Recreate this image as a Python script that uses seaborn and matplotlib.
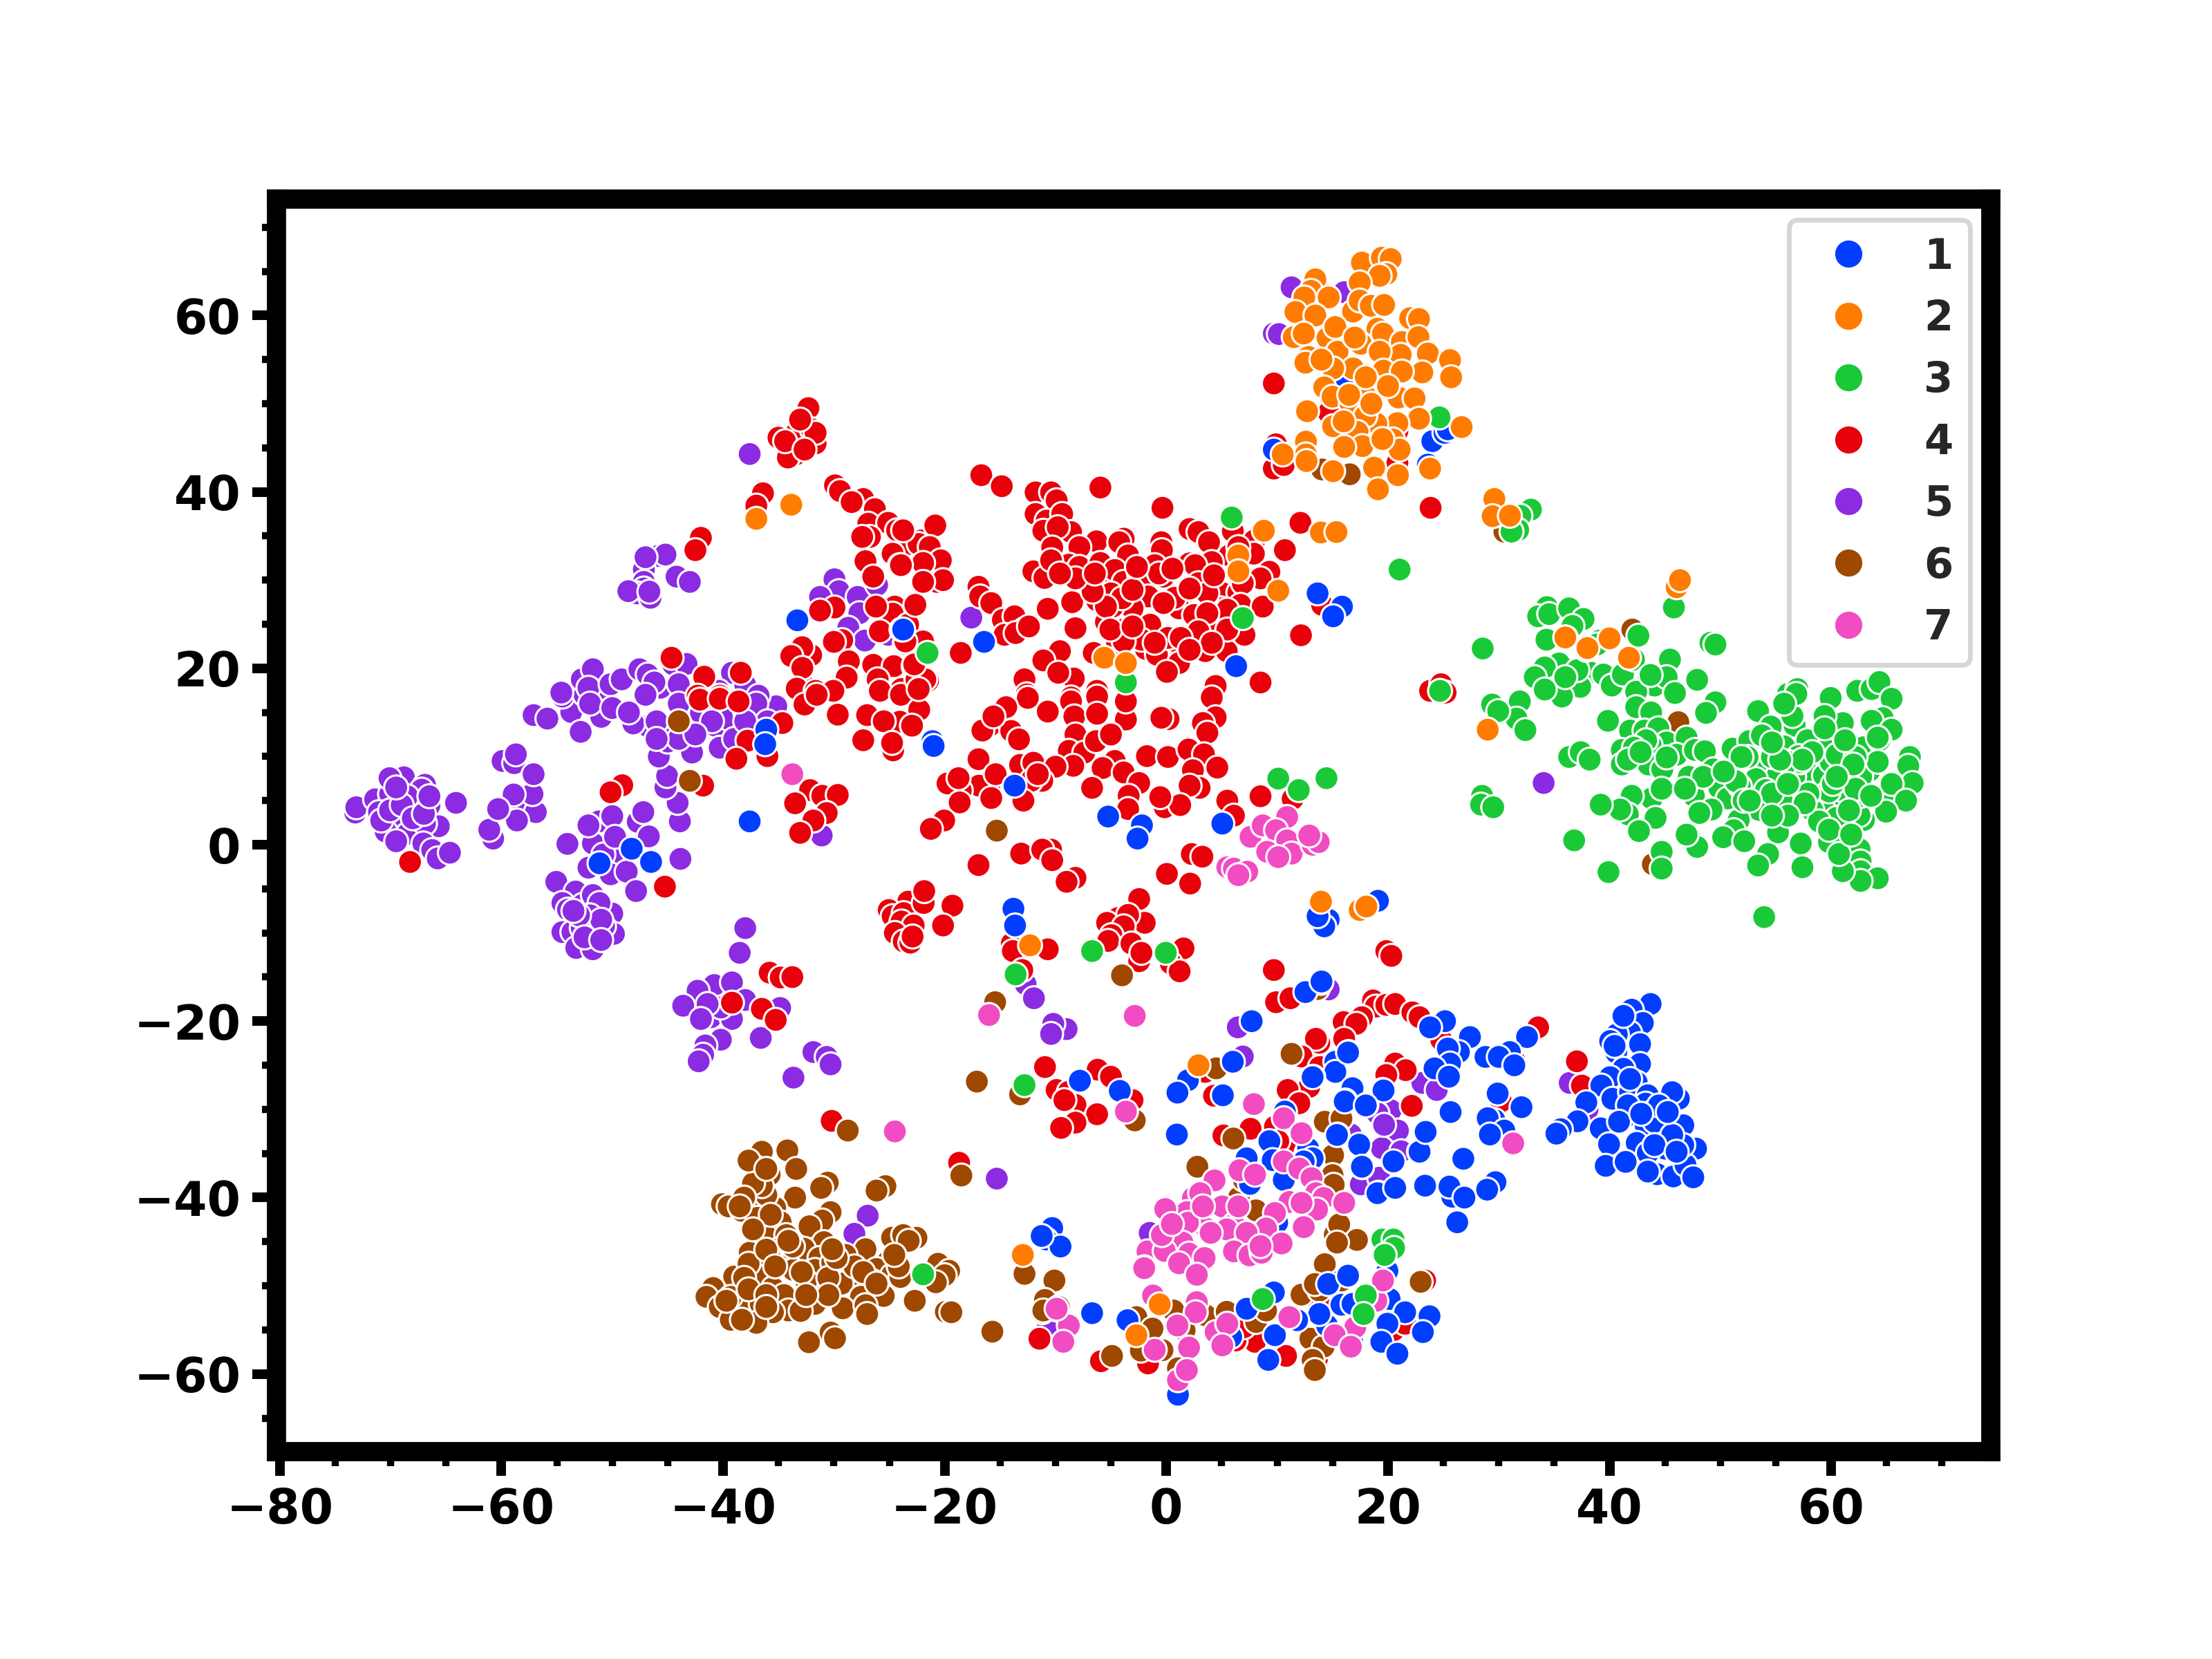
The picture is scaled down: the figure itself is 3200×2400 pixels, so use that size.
import matplotlib
matplotlib.use('Agg')
import matplotlib.pyplot as plt
from matplotlib.ticker import AutoMinorLocator
import pandas as pd
import seaborn as sns

# t-SNE points, one list per class
class_1 = [(15.95,53),(9.7,44.8),(24,45.75),(25.1,46.7),(25.4,47.1),(23.6,43.1),(-33.3,25.45),(-23.9,24.4),(-36.1,13.05),(-36.2,11.4),(-37.6,2.65),
(-48.25,-.45),(-46.5,-1.95),(-51.15,-2.1),(-21.1,11.75),(-21,11.2),(-16.45,23),(-23.75,24.4),(6.3,20.25),(13.65,28.5),(15.85,27),(15.05,25.9),
(-13.7,6.7),(-5.25,3.2),(-2.2,2.2),(-2.6,.7),(5.05,2.4),(-13.8,-7.25),(-13.65,-9.15),(19.1,-6.35),(14.65,-8.5),(14.25,-9.25),(13.65,-8.1),(13.95,-15.65),
(12.55,-16.7),(7.7,-20),(-7.8,-26.75),(-4.2,-27.9),(6,-24.6),(1.95,-26.7),(1,-28.1),(5.1,-28.4),(.95,-32.85),(25.15,-20),(23.8,-20.7),(27.4,-21.8),
(32.55,-21.8),(31,-23.5),(28.8,-24.05),(30,-24.05),(31.4,-25),(26.4,-23.5),(25.4,-23.1),(25.6,-24.8),(24.2,-25.35),(25.5,-26.3),(15.25,-24.6),(16.45,-23.5),
(15.25,-25.75),(13.25,-26.3),(16.8,-27.6),(19.5,-27.8),(18.05,-29.5),(16.15,-29),(25.7,-30.25),(29.9,-28.2),(32.05,-29.75),(29.6,-31.2),(29,-31),(30.5,-32.4),
(29.2,-32.85),(23.5,-32.7),(22.8,-34.8),(17.4,-34),(15.45,-32.85),(20.5,-35.95),(17.65,-36.55),(26.8,-35.6),(23.4,-38.7),(25.8,-39.9),(29.7,-38.25),(28.85,-39.25),
(35.55,-32.3),(37.05,-31.3),(19.15,-39.45),(20.7,-38.9),(7.3,-35.5),(7.6,-38.45),(10.7,-38.1),(12.65,-34.95),(9.7,-35.9),(10.7,-30.25),(9.3,-33.6),
(43.7,-18.05),(42,-18.7),(43,-20.2),(41.85,-21.3),(40.65,-21.5),(40.05,-22.25),(42.75,-22.6),(40.6,-23.55),(42.75,-24.85),(41.25,-25.4),(40.05,-26.35),(39.25,-27.3),
(42.45,-26.95),(40.25,-28.8),(41.85,-28.05),(43.45,-28.4),(43.25,-29.35),(46.25,-28.8),(45.65,-28.05),(37.9,-29.2),(37.1,-31.35),(35.6,-32.25),(35.2,-32.75),(39.2,-32.15),
(41.75,-30.65),(43.85,-30.3),(43.25,-31.8),(45,-31.6),(46.65,-31.8),(39.95,-33.95),(42.45,-33.8),(45,-34.45),(47,-34.6),(47.8,-34.45),(43.45,-34.95),(39.65,-36.4),
(41.45,-35.95),(44.3,-37.35),(43.45,-37.05),(45.75,-37.6),(46.85,-36.3),(47.55,-37.7),(45.2,-33.3),(46.65,-34.05),(-10.3,-43.45),(-10.85,-44.75),(-9.55,-45.55),(-11.25,-44.35),
(-6.7,-53.1),(-3.5,-53.9),(1.05,-62.35),(9.7,-50.75),(7.25,-52.6),(9.8,-55.6),(9.2,-58.4),(14.5,-54.5),(15.8,-52.15),(14.6,-49.8),(16.4,-48.85),(16.8,-52.05),
(13.8,-53.2),(11.8,-53.9),(16.75,-56.25),(19.95,-48.3),(20.15,-51.5),(21.55,-53),(23.75,-53.45),(23.15,-55.25),(19.95,-54.3),(19.4,-56.35),(20.85,-57.7),(5.85,-55.8),
(3.35,-41.2),(10,-42.85),(7.25,-35.55),(9.6,-35.75),(7.55,-38.45),(10.6,-38),(12.8,-34.45),(13.2,-35.55),(12.4,-35.9),(15.4,-32.9),(17.65,-36.5),(20.5,-35.9),
(22.85,-34.8),(23.4,-32.55),(25.65,-30.3),(19.05,-39.5),(20.65,-38.9),(23.35,-38.65),(25.55,-38.75),(26.9,-40),(28.95,-39.1),(26.25,-42.8),(14,-15.5),(16.4,-23.55),(13.2,-26.35),
(19.6,-27.85),(16.1,-29.1),(18,-29.55),(44.05,-31.4),(41.65,-29.55),(44.45,-29.55),(45.65,-32.9),(44.05,-34.05),(46.05,-34.8),(40.85,-31.4),(42.85,-30.5),(45.25,-30.3),(40.45,-22.8),(41.25,-19.4),(41.85,-26.55)]

class_2 = [(18.75,65.8),(17.65,66),(19.45,66.55),(20.25,66.4),(19.85,64.7),(19.25,64.5),(17.45,63.75),(13.45,64.1),(13.05,62.8),(12.45,62.05),(14.65,62.05),(11.65,60.4),
(13.45,60),(16.85,60.45),(17.45,61.7),(18.45,61.1),(19.65,61.2),(22,59.7),(22.8,59.6),(11.5,57.55),(12.4,57.95),(14.55,57.45),(15.25,58.7),(19.05,58.5),(19.55,57.95),
(17.55,56.8),(21.25,57),(22.75,57.55),(23.6,55.7),(21.15,55.55),(19.25,55.9),(15.45,55.9),(12.85,55.3),(12.55,54.65),(25.6,54.95),(25.7,53),(23.1,53.55),(19.6,53.75),
(16.85,54),(15.05,54),(21.25,53.65),(19.4,51.75),(17.85,51.1),(14.25,51.85),(15,50.8),(20.95,50.7),(22.4,50.6),(16.65,49.9),(12.7,49.15),(22.8,48.3),(20.85,47.8),
(18.95,47.75),(17.95,48.6),(26.65,47.35),(15.05,47.45),(17.25,46.8),(20.45,45.95),(17.7,45.2),(16.05,45.1),(21.05,44.8),(12.6,45.7),(12.6,44.25),(12.65,43.5),(10.5,44.25),
(15.05,42.35),(18.75,42.75),(20.9,41.9),(23.8,42.65),(19.1,40.3),(29.6,39.2),(29.45,37.25),(31,37.3),(8.8,35.6),(13.95,35.4),(15.35,35.45),(6.5,32.8),(6.5,31),(10.1,28.8),
(-5.6,21.2),(-3.65,20.6),(36.05,23.5),(37.9,22.1),(46.05,29.2),(46.35,30),(36,23.5),(38,22.3),(40,23.4),(41.75,21.2),(29,13.05),(-33.85,38.55),(-37,36.95),(-12.3,-11.4),
(13.95,-6.45),(17.45,-7.4),(18.05,-7),(2.9,-25),(-.6,-52.1),(-2.7,-55.6),(-12.95,-46.5),(16.5,51),(18.5,50),(18,53),(17,57.5),(14,55),(20,52),(16,48),(19.5,46)]

class_3 = [(24.65,48.45),(21.05,31.2),(32.9,38),(31.95,37.3),(31.75,35.7),(31.15,35.5),(28.55,22.25),(34.35,26.95),(33.55,25.9),(34.55,26.15),(36.35,26.8),(37.65,25.6),
(36.65,24.8),(34.3,23.25),(39.1,23.15),(38.85,22.7),(35.45,20.55),(34.15,20.1),(33.25,19),(38.2,19.55),(37.35,17.9),(34.9,17.6),(35.7,16.8),(39.45,19.3),(40.2,18.05),
(41.2,19.3),(42.2,21),(42.6,23.7),(43.5,19),(44.05,18.05),(45.45,21),(45.15,19),(45.9,17.2),(47.9,18.7),(49.1,22.9),(49.55,22.7),(45.8,26.9),(49.55,16.15),(48.7,14.95),
(42.4,17.35),(42.4,15.6),(43.75,15),(39.85,14.05),(41.85,12.95),(43.15,12.95),(44.4,13.2),(45.15,11.6),(46.95,12.15),(46.05,10.2),(42.05,10.4),(41.1,10.75),(42.95,11.3),
(43.7,11.3),(41.1,9.1),(43.5,9.1),(44.75,8.55),(47.7,10.75),(48.6,10.6),(51.1,10.9),(52.6,11.75),(53.4,15.15),(54.55,13.4),(56.7,13.5),(56.1,17.1),(56.95,17.65),(56.5,16.4),
(59.95,16.65),(61.05,13.8),(59.4,14.6),(59.05,12.65),(62.35,17.45),(63.65,17.65),(64.35,18.45),(65.45,16.55),(64.65,14.35),(63.65,14.05),(65.45,13.05),(62.9,11.05),(64.35,11.85),
(57.85,11.85),(55.75,11.15),(59.55,10.75),(57.05,10.05),(53.55,9.1),(55.2,8),(53.75,12.4),(67.1,9.95),(66.95,8.95),(67.35,7),(64.9,5.65),(65.45,6.9),(66.75,5),(64.95,3.75),
(63.45,8.4),(61.25,8),(57.95,8.3),(59.35,7.85),(56.65,7.7),(53.2,7.45),(54.1,6.2),(49.9,6.45),(49.35,8.55),(47.15,7.7),(47.6,5.55),(50.65,5.25),(56.65,5.55),(55.55,5),
(61.15,5.4),(59.25,4.15),(58.3,3.9),(53.5,3.95),(49.2,4),(48.1,3.6),(51.65,2.8),(60.5,3.05),(62.95,2.8),(62.55,3.35),(58.9,2.65),(51.2,1.65),(50.25,.85),(52.15,.4),(55.2,1.4),
(57.25,.15),(60.6,.75),(59.8,.3),(62.55,-.5),(62.65,-1.9),(62.65,-3),(64.2,-3.8),(62.65,-4.1),(61.05,-3),(60.7,-1.05),(57.4,-2.55),(54.3,-1.05),(53.4,-2.35),(47.4,.5),(47.9,-.25),
(46.95,1.15),(43.8,5.25),(42,5.55),(44.7,6.35),(41.65,3.45),(44.15,3.05),(42.65,1.55),(40.95,4),(39.2,4.55),(36.8,.5),(44.7,-.8),(44.7,-2.7),(39.9,-3.1),(53.95,-8.2),(36.35,9.95),
(37.4,10.5),(38.2,9.65),(28.5,5.55),(28.4,4.55),(29.5,4.25),(29.4,15.9),(31.9,16.25),(31.6,14.3),(32.4,13),(29.95,15.15),(57.2,9.35),(59.95,9.4),(61.25,6.05),(62.7,5.55),
(59.8,6.05),(56.1,9.4),(54.65,9.95),(51.75,6.65),(52.45,9.95),(62.7,7.7),(64.2,9.4),(57.95,5.8),(58.3,10.5),(60.5,10.2),(62.2,9.95),(5.9,37.1),(-3.65,18.4),(-21.55,21.75),
(6.9,25.7),(24.7,17.45),(10.1,7.5),(11.95,6.2),(14.45,7.55),(-6.7,-12.05),(-.05,-12.25),(-13.6,-14.7),(-12.8,-27.25),(19.5,-44.75),(20.5,-44.75),(20.55,-45.7),(19.7,-46.5),
(8.7,-51.5),(18,-51.1),(17.8,-53.2),(-21.95,-48.7),(51.4,7.2),(52.1,5),(54.65,5.8),(56.1,6.9),(57.6,4.7),(60.15,6.9),(62.2,6.35),(63.6,5.55),(62,9.1),(60.5,7.7),(56.1,3.3),(54.65,3.3),(52.65,5),(48.45,7.7),
(45.15,9.9),(43.3,11.85),(57.4,9.65),(55.4,9.65),(61.6,3.9),(59.8,1.7),(61.8,1.15),(64.2,12.15),(56.5,14.6),(54.65,11.6),(59.4,13.2),(61.25,11.85),(51.9,9.95),(50.3,8.3),(46.8,6.35),(56.85,17.1),(55.75,16),
(42.2,11),(41.65,9.65),(42.8,10.5),(43.7,19.25),(37.1,19.8),(36,19),(34.15,17.6)]

class_4 = [(-32.3,49.5),(-33.45,46.6),(-31.65,45.5),(-33.45,44.25),(-34.15,43.9),(-35,46.15),(-32,47.1),(-31.65,46.7),(-34.4,45.75),(-32.65,44.8),(-33.05,48.2),(-36.4,39.85),
(-37,38.45),(-42,34.8),(-42.5,33.4),(-29.9,40.75),(-29.45,40.1),(-27.35,39.2),(-28.4,38.85),(-26.3,38.05),(-26.9,36.4),(-25.1,36.5),(-20.9,36.2),(-24.3,35.65),(-26.75,34.9),
(-27.45,34.9),(-22.1,34.5),(-21.3,33.75),(-23.2,34.1),(-27.15,32.15),(-24.7,33),(-24.05,31.7),(-21.9,32.05),(-26.45,30.4),(-22,29.8),(-20.7,29.8),(-22.7,27.2),(-24.5,27),(-24.7,26.2),
(-26.2,27),(-29.95,26.9),(-31.25,26.55),(-23.3,24.95),(-25.85,24.2),(-29.25,23.2),(-30,23),(-21.8,23),(-23.6,22.8),(-33.3,21.5),(-32.65,21.6),(-32.05,21.5),(-32.85,22.4),(-33.85,21.4),
(-32.85,20.05),(-28.65,20.8),(-26.45,20.4),(-24.6,20.25),(-22.8,20.25),(-28.85,18.95),(-26.05,18.75),(-22.6,18.75),(-22.3,17.65),(-23.9,17.65),(-21.5,18.6),(-33.35,17.7),(-31.65,17.45),
(-30.05,17.45),(-25.85,17.45),(-44.65,21.2),(-41.7,19.05),(-38.4,19.5),(-42.3,16.9),(-40.3,16.9),(-42.1,16.45),(-40.3,16.55),(-38.6,16.25),(-34.65,13.8),(-37.8,11.8),(-38.8,9.75),(-36,10.05),
(-32.65,15.9),(-31.55,17),(-29.65,14.75),(-27,14.7),(-27.35,11.85),(-23.95,17),(-24.05,13.95),(-22.95,13.5),(-25.5,14),(-24.65,10.7),(-24.75,11.55),(-22.3,15.3),(-49.1,6.75),(-50.15,5.95),
(-41.8,6.7),(-68.25,-1.95),(-45.25,-4.75),(-32.15,6.2),(-33.5,4.7),(-31.05,5.55),(-29.65,5.65),(-30.65,3.6),(-31.85,2.75),(-33.05,1.35),(-21.3,1.8),(-20.3,2.55),(-35.8,-14.5),(-34.8,-15.05),
(-33.75,-15),(-39.2,-17.9),(-36.5,-18.6),(-35.25,-19.85),(-21.9,-5.2),(-23.3,-6.45),(-25.05,-7.4),(-24.7,-8.1),(-23.7,-7.75),(-23.9,-8.7),(-22.8,-9.15),(-24.5,-10),(-23.7,-10.95),(-23.1,-11.1),
(-21.9,-6.6),(-20.1,-9.1),(-22.9,-10.4),(-30.2,-31.3),(-18.7,-36.1),(9.7,52.3),(14.65,49),(9.9,45.4),(20.85,46.9),(20.85,43.3),(9.7,42.65),(10.6,43.05),(23.85,38.2),(-16.7,41.9),(-14.85,40.65),
(-11.8,39.95),(-10.4,39.95),(-9.9,39.05),(-5.95,40.5),(-.35,38.2),(-11.8,37.5),(-10.8,36.75),(-9.4,37.5),(-11.1,35.6),(-8.6,35.45),(-9.8,36),(-6.3,34.4),(-3.85,34.7),(-4.25,34.3),(-.45,34.3),
(-10.3,33.7),(-7.85,33.75),(-3.45,32.8),(-.4,33.4),(2.1,35.8),(2.9,35.45),(3.85,34.3),(6,35.55),(7.95,34.5),(7.9,33),(12.1,36.5),(10.7,33.4),(5.7,32.8),(4.1,32.05),(2.1,31.9),(2.6,31.7),(9.3,30.95),
(8.5,30.2),(-12,31),(-11,30.25),(-8.8,31.75),(-10.4,32.25),(-7.85,31.5),(-5.95,31.95),(-7,29.9),(-5.45,30.4),(-4.65,31.15),(-3.85,29.8),(-2.45,30.6),(-.25,30.4),(-1.05,31.7),(-2.05,29.45),(-1.65,28.15),
(-3.05,26.8),(1.65,28.55),(2.9,29.65),(1.15,26.8),(2.5,26.05),(5.1,28.5),(6.5,28.6),(6.9,29.65),(6.7,27.2),(4.9,26.8),(4.5,25.1),(8.7,27),(13.85,28.5),(14.05,27.2),(-16.95,29.25),(-16.8,28.15),(-15.8,27.4),
(-14.75,25.5),(-13.7,25.9),(-12.8,24.45),(-14.6,23.8),(-13.6,24),(-12.4,24.75),(-10.7,26.75),(-8.5,27.5),(-6.25,27.7),(-8.2,24.55),(-5.45,25.25),(-4.85,27),(-3.85,24.4),(-1.45,24.95),(-4.45,22.9),(-9.6,21.95),
(-11.1,20.9),(-6.55,21.75),(-1.85,22.2),(-.25,22.5),(.95,23),(2.65,23.15),(-.85,21.55),(3.5,21.95),(1.15,20.6),(.05,19.6),(5.45,21.95),(7.05,23.8),(12.15,23.75),(-18.55,21.75),(-21.95,23.05),(-23.55,23.05),
(-22.65,27.2),(-20.85,36.2),(-22.35,34.1),(-21.35,33.75),(-20.35,32.25),(-21.95,31.95),(-23.95,31.7),(-20.15,30),(-21.95,29.8),(-23.75,35.65),(-8.35,18.85),(-9.75,19.5),(-12.8,18.75),(-12.6,17.05),(4.45,18),
(8.5,18.4),(23.8,17.45),(24.8,18.2),(25.2,17.25),(-6.25,17.45),(-8.6,16.7),(-3.65,16.3),(4.1,16.7),(-22.55,18.75),(-21.75,18.75),(-22.75,20.45),(-22.35,17.65),(-22.95,13.5),(-12.5,16.65),(-14.45,15.6),(-10.7,15.1),
(-8.6,16.25),(-8.3,14.55),(-6.25,16.8),(-6.25,14.85),(-3.65,14.2),(-3.65,16.25),(.2,14.25),(-.45,14.4),(4.45,14.45),(3.3,13.8),(3.7,12.7),(-15.95,13.5),(-16.6,12.95),(-14,12.9),(-13.3,11.95),(-15.6,14.55),
(-8.2,12.5),(-8.8,10.65),(-7.4,10.45),(-6.35,11.75),(-4.65,9.5),(-5,12.5),(-8.4,8.95),(-5.75,8.7),(-3.85,8.2),(-2.45,7),(-6.7,6.45),(-1.75,10.05),(.15,9.95),(2,10.8),(3.4,10.25),(4.6,8.75),(2.4,8.45),(3,6.45),
(2.1,6.7),(-3.4,5.55),(-3.45,4.05),(-.15,4.25),(1.25,4.5),(-.55,5.4),(5.5,5),(8.5,5.5),(11.4,5.2),(6.1,3.3),(-16.95,9.7),(-13.2,9.05),(-12,9.3),(-10,8.85),(-11.2,7.25),(-12.2,7.25),(-11.6,8),(-15.95,6.85),(-16.9,6.7),
(-18.55,6.15),(-19.75,6.95),(-18.75,7.55),(-15.4,8),(-15.8,5.3),(-12.9,5),(-18.65,4.8),(-20.05,2.75),(-21.25,1.8),(-13.1,-1),(-16.95,-2.3),(-10.4,-.55),(-11.2,-.55),(-10.3,-1.75),(-8.2,-3.75),(-9,-4.2),(2.3,-1.05),
(3.25,-1.35),(.05,-3.3),(2.15,-4.4),(-2.45,-6.15),(-4.35,-8.3),(-5.35,-8.85),(-1.95,-8.85),(-3.45,-7.95),(-3.85,-9.25),(-4.95,-10.25),(-5.25,-10.9),(-3.15,-11.2),(-2.45,-13.2),(-2.25,-12.25),(1.55,-11.75),(.4,-13.45),
(1.2,-14.35),(-21.85,-5.25),(-19.3,-6.9),(-20.15,-9.15),(-13.95,-11.2),(-13.85,-12.05),(-10.7,-11.85),(-13,-14.2),(9.7,-14.2),(19.85,-12.05),(20.3,-12.6),(9.9,-17.85),(11.2,-17.4),(18.65,-17.65),(18.9,-18.35),(19.85,-18.15),
(20.65,-18.05),(17.65,-19.55),(22.2,-19),(22.85,-19.55),(16,-20.1),(17.15,-20.3),(16.05,-22),(24.8,-22.1),(13.8,-22.45),(13.5,-22),(12.2,-24),(33.55,-20.7),(37.05,-24.55),(31.4,-24.45),(20.65,-24.8),(21.6,-25.55),
(19.85,-26.1),(13.85,-25.2),(12.9,-27.45),(10.95,-27.8),(12,-29.3),(22.15,-29.6),(9.8,-31.95),(7.6,-32.2),(5.15,-32.95),(11.5,-34),(10.1,-33.6),(3.5,-25.75),(4.3,-28.45),(-10.95,-25.2),(-6.2,-25.5),(-5,-26.3),(-9.9,-27.8),
(-8.8,-28),(-8.2,-29.5),(-9.2,-28.95),(-6.25,-30.55),(-8.2,-31.5),(-9.5,-32.1),(-3.05,-28.95),(-18.7,-36.05),(20.5,-55.05),(21.55,-54.3),(23.35,-49.4),(13.6,-58.25),(10.8,-57.95),(8,-56.35),(-1.65,-58.8),(-5.9,-58.55),
(16.95,-52.05),(13.8,-52.05),(6.25,-56.2),(7,-54.7),(-11.45,-56),(37.5,-27.3),(30.2,-29.1),(-5,28.5),(-4,27.95),(-5.45,27),(-3.05,28.9),(-.65,30.75),(.75,28),(-.25,27.4),(3.7,28.5),(2.1,29.05),(5.5,26.65),(3.7,26.25),
(5.5,24.4),(2.9,24.2),(.15,23.45),(-2.25,23.25),(-3.85,23.05),(-5.05,24.4),(-6.65,28.7),(-8.2,30.2),(-9.6,30.75),(-6.45,30.75),(-2.65,31.5),(.55,31.3),(4.3,30.55),(6.5,33.75),(1.3,23.45),(4.1,22.9),(2.1,22.1),(-1.05,22.9),(-3.05,24.75)]

class_5 = [(-73.2,3.65),(-73.1,4.25),(-71.4,5.15),(-70.05,5.75),(-68.8,7.65),(-70.1,7.55),(-66.9,6.8),(-67.2,6.25),(-66.5,4.45),(-64.1,4.75),(-67.85,3.9),(-67.85,4.8),(-69.05,3.05),(-71.05,3.7),(-70.45,1.5),(-68.45,1.25),
(-69.5,.4),(-65.65,2.1),(-66.9,2.4),(-67.05,.15),(-66.25,-.6),(-65.75,-1.55),(-64.65,-.9),(-70.85,2.75),(-70.05,3.9),(-60.75,.7),(-61.1,1.7),(-59.5,4.3),(-58,4.25),(-56.9,3.7),(-57.2,5.75),(-58.9,5.7),(-58.6,2.75),(-60.3,4.05),
(-59.9,9.5),(-58.85,9.25),(-58.7,10.25),(-57.1,8),(-54.05,.1),(-51.2,2.65),(-50,3.25),(-47.7,2.6),(-47.2,3.7),(-46.7,.95),(-51.75,.15),(-49.85,-.9),(-50.8,-1.1),(-49.75,.9),(-52.15,-2.6),(-50.15,-3.35),(-48.7,-3.05),(-52.15,2.2),
(-47.85,-5.25),(-43.85,-1.6),(-43.9,2.65),(-44.1,4.75),(-45.2,6.5),(-45.05,7.8),(-45.8,10),(-42.8,10.45),(-45,11.7),(-43.6,13.4),(-45.55,13.45),(-46.8,13.45),(-48.1,13.75),(-40.7,13.5),(-40.3,11),(-42,14.95),(-39.4,14.2),(-36.8,13.6),
(-35.2,15.7),(-55.05,-4.2),(-53.3,-5.3),(-54.5,-6.6),(-54,-7.35),(-52.65,-6.8),(-51.75,-5.7),(-50,-7.8),(-51.15,-6.6),(-54.5,-9.9),(-53.6,-9.9),(-52.75,-9.45),(-50.95,-10.35),(-49.85,-10.1),(-52.2,-11.3),(-53.25,-11.7),(-51.75,-11.85),
(-50.75,-9.25),(-57.1,14.7),(-55.85,14.3),(-53.7,15.05),(-51.6,15.7),(-52.85,12.8),(-54.5,16.8),(-52.5,17),(-50.55,16.8),(-54.6,17.25),(-52.75,18.75),(-51.75,19.9),(-52.15,17.8),(-50.15,18.2),(-49.15,18.75),(-47.55,19.9),(-46.8,19.3),
(-45.65,17.8),(-46.2,18.4),(-44.5,20.45),(-43.3,20.5),(-44,18.2),(-39.2,19.5),(-40.4,17.45),(-38,18.1),(-36.8,16.9),(-46,14),(-44,16),(-42,17),(-41,16),(-38,15),(-37,16),(-36,14),(-39,12),(-38,14),(-47,17),(-45.85,32.75),(-47.15,31.2),
(-45.2,32.9),(-47.15,29.8),(-47.15,29.05),(-47.75,28.5),(-48.55,28.75),(-46.55,28),(-46.65,28.7),(-44.2,30.4),(-43,29.8),(-47,32.6),(-37.6,44.3),(-29.95,30.1),(-29.55,28.75),(-27.85,28.1),(-31.25,28.1),(-26.1,29.45),(-27.7,26.25),
(-28.7,24.6),(-27.2,23.15),(-25.1,23.8),(-32.65,18),(-38,-9.45),(-38.5,-12.25),(-40.8,-15.9),(-39.2,-15.6),(-42.3,-16.55),(-43.6,-18.25),(-38,-17.6),(-41.1,-19.55),(-39.2,-19.75),(-40.2,-18.45),(-41.4,-18.05),(-34.85,-18.5),(-42,-19.75),
(-40.2,-22.1),(-41.6,-22.75),(-41.8,-23.8),(-42.2,-24.55),(-36.6,-21.9),(-31.85,-23.5),(-30.65,-24.05),(-30.3,-24.9),(-33.65,-26.4),(-31.1,1.05),(-12.7,-15.8),(-11.95,-17.4),(-9,-20.9),(-10.2,-20.3),(-10.4,-21.45),(6.45,-20.7),(6.9,-24),
(14.65,-16.4),(34.05,7),(23.1,-27),(24.4,-27.8),(20.25,-30.1),(19.05,-30.45),(20.9,-32.4),(19.45,-34.4),(19.65,-31.75),(17.55,-38.5),(19.2,-37.75),(16.65,-32.85),(21.2,-34.75),(36.4,-27),(38,-30.05),(-10.7,-54.7),(-1.5,-44),(11.3,63.2),
(13.3,63.4),(16.05,62.65),(9.7,57.95),(10.15,57.9),(-17.6,25.75),(-26.95,-42.05),(-28.15,-44.1),(-15.3,-37.85),(-68.5,5.5),(-69,4.5),(-68,3),(-67,3.5),(-66.5,5.5),(-69.5,6.5),(-52,-8),(-51,-8.5),(-53,-8),(-52.5,-10.5),(-51,-10.8),(-53.5,-7.5),
(-51,14.5),(-52,16),(-50,15.5),(-48.5,15),(-41,14),(-44,12),(-42.5,12.5),(-46,12)]

class_6 = [(-34.2,-34.65),(-36.5,-34.8),(-37,-36.6),(-33.4,-36.75),(-35.8,-37.4),(-36.7,-38.2),(-30.55,-38.3),(-31.15,-38.9),(-25.35,-38.7),(-26.15,-39.2),(-33.5,-40),(-35.3,-41.15),(-40.1,-40.75),(-39.5,-41),(-38.3,-41.5),(-37.7,-40.2),
(-30.3,-41.65),(-31.05,-42.6),(-34.8,-42.8),(-37.1,-43.45),(-32.2,-43.25),(-36.1,-44.4),(-34.3,-44.25),(-24.75,-44.55),(-22.55,-44.55),(-23.75,-44.25),(-23.25,-44.9),(-30.9,-45.05),(-32.7,-45.8),(-34.85,-45.8),(-27.15,-45.85),(-28.95,-46.5),
(-37.6,-46.25),(-35.65,-47.1),(-31.3,-46.85),(-25.15,-47.3),(-20.6,-47.5),(-19.6,-48.3),(-20,-48.8),(-20.8,-49.6),(-12.8,-48.65),(-10.15,-49.35),(-26.15,-48.1),(-28.55,-48.85),(-31.7,-48.2),(-33.65,-48.2),(-30.15,-47.35),(-24.75,-48.8),(-24,-49),
(-26.55,-49.45),(-29.3,-49.75),(-36.5,-49.05),(-39,-48.95),(-37.7,-47.5),(-40.9,-50.25),(-41.5,-51.25),(-31.5,-50.35),(-32.5,-49.45),(-35.5,-50.25),(-34.5,-51.05),(-38.1,-52.05),(-36.6,-52.05),(-39.3,-51.25),(-40.3,-52.4),(-27.55,-51.25),(-25.5,-51.15),
(-22.7,-51.7),(-31.7,-52.05),(-29.2,-52.55),(-27.15,-52.2),(-27,-53.2),(-34.1,-52.8),(-33,-52.85),(-35.5,-53),(-19.9,-52.95),(-19.4,-53),(-37,-54.2),(-39.3,-53.85),(-38.3,-53.85),(-30.3,-55.3),(-29.9,-55.95),(-32.25,-56.4),(-15.7,-55.2),(-18.5,-37.5),
(-28.75,-32.4),(-17.1,-26.85),(-13.2,-28.3),(-11,-51.55),(-9.85,-52.7),(-11.2,-53),(-2.85,-31.25),(-43,7.25),(-44,14),(-15.3,1.6),(-4,-14.8),(-15.45,-17.85),(11.3,-23.7),(4.5,-25.35),(13.65,-16.35),(14.05,42.55),(16.55,42),(42.05,24.4),(46.2,13.9),
(43.9,-2.2),(30.5,35.5),(2.8,-36.5),(6.05,-33.3),(14.3,-31.4),(15.8,-31.05),(15.05,-35.2),(15,-37.45),(15.1,-38.55),(6.55,-40),(8.1,-41.45),(7,-38),(15.2,-44.2),(15.6,-43.05),(17.2,-44.8),(15.4,-45.1),(14.3,-47.55),(15.8,-49.4),(22.95,-49.55),(12.2,-51),
(13.8,-50.55),(13.4,-49.8),(8.1,-54.1),(9,-52.8),(3.55,-53.35),(5.45,-52.95),(13,-56),(14.2,-56.9),(13.2,-58.4),(13.4,-59.55),(-2.7,-53.55),(-1.25,-54.85),(.65,-52.8),(1.65,-55.05),(-2.3,-57.35),(-.35,-57.3),(1.05,-59.35),(-4.9,-57.95),(-10.1,-49.4),
(-10.95,-51.6),(-9.7,-52.4),(-11.1,-52.8),(-36.1,-45.9),(-33.7,-45.55),(-35.3,-47.8),(-38.1,-49.1),(-37.7,-50.4),(-36.1,-51.05),(-32.9,-48.45),(-30.5,-49.1),(-28.15,-47.8),(-27.35,-48.45),(-29.75,-46.85),(-30.15,-45.85),(-36.1,-39.7),(-36.9,-42.3),
(-34.1,-44.9),(-35.7,-41.95),(-36.5,-38.7),(-37.3,-38.4),(-37.7,-35.8),(-36.1,-36.75),(-38.1,-40),(-38.5,-41),(-37.3,-43.6),(-30.5,-51.05),(-32.5,-51.05),(-39.7,-51.7),(-36.1,-52.4),(-26.15,-49.75),(-24.15,-47.8),(-24.55,-46.5)]

class_7 = [(7.6,.9),(8.7,2.2),(10.9,3.15),(9.9,1.65),(10.9,.5),(9.1,-.8),(11.3,-1),(10.1,-1.4),(13.2,0),(13.75,.3),(12.9,1.05),(5.5,-2.55),(6.1,-2.7),(7.3,-3.05),(6.5,-3.45),(-33.75,8),(-24.5,-32.5),(-16,-19.3),(-2.85,-19.4),(7.9,-29.4),(-3.65,-30.25),
(31.4,-34),(10.6,-31),(12.2,-32.7),(10.6,-35.9),(12,-36.7),(6.6,-36.9),(8,-37.4),(4.35,-38.05),(13.1,-37.8),(13.5,-39.5),(14.2,-40.05),(16.05,-40.6),(13.6,-41.35),(11.1,-40.5),(12.2,-40.6),(2.4,-40.05),(3.05,-39.5),(-.15,-41.35),(1.85,-41.65),(5.05,-41),
(9.8,-41.75),(3.65,-43.55),(1.95,-42.85),(6.1,-43.05),(5.45,-43.6),(9,-43.5),(12.4,-43.35),(7.25,-44),(-.3,-44.25),(1.45,-45.1),(-1.7,-46.1),(-.15,-46.05),(2.05,-46.35),(3.45,-46.85),(6.1,-46.1),(7.5,-46.55),(8.6,-46.25),(10.4,-45.2),(1.15,-47.45),(-2,-47.9),
(2.75,-48.75),(-1.2,-51.1),(2.75,-51.85),(2.65,-53),(1,-54.5),(-1.05,-57.25),(2.05,-57),(4.45,-55.25),(5.5,-54.3),(5.05,-56.75),(11.1,-53.55),(18.95,-51.7),(19.55,-49.4),(17.05,-54.7),(15.2,-55.6),(16.65,-56.9),(31.3,-33.85),(-8.8,-54.5),(-9.3,-56.35),(-9.9,-52.6),
(1.05,-60.7),(1.85,-59.55),(-.1,-41.3),(-.4,-44.25),(-2,-48),(4,-44),(6.5,-41),(8.5,-45.5),(.5,-43),(3.3,-41)]

# draw order, later classes sit on top
draw_order = [5, 4, 6, 1, 7, 3, 2]
class_points = {1: class_1, 2: class_2, 3: class_3, 4: class_4, 5: class_5, 6: class_6, 7: class_7}

rows = []
for label in draw_order:
    for x, y in class_points[label]:
        rows.append({'x': x, 'y': y, 'label': label})
df = pd.DataFrame(rows)

sns.set_style('ticks')
plt.rcParams['font.family'] = 'DejaVu Sans'

fig, ax = plt.subplots(figsize=(6.4, 4.8), dpi=500)
fig.subplots_adjust(left=0.125, right=0.9, top=0.88, bottom=0.125)
sns.scatterplot(data=df, x='x', y='y', hue='label', palette=sns.color_palette('bright', 7),
                hue_order=[1, 2, 3, 4, 5, 6, 7], s=25, edgecolor='white', linewidth=0.45, legend='full', ax=ax)

ax.set_xlim(-80.3, 74.4)
ax.set_ylim(-68.8, 73.2)
ax.set_xlabel('')
ax.set_ylabel('')
ax.set_xticks(range(-80, 61, 20))
ax.set_yticks(range(-60, 61, 20))
ax.xaxis.set_minor_locator(AutoMinorLocator(4))
ax.yaxis.set_minor_locator(AutoMinorLocator(4))
ax.tick_params(which='major', length=5, width=2, colors='black', labelsize=10, pad=2.4)
ax.tick_params(which='minor', length=3, width=1.5, colors='black')
for lab in ax.get_xticklabels() + ax.get_yticklabels():
    lab.set_fontweight('bold')
for side in ax.spines.values():
    side.set_linewidth(4)
    side.set_color('black')

leg = ax.legend(loc='upper right', prop={'size': 8.75, 'weight': 'bold'})
for h in leg.legend_handles:
    h.set_markersize(6.1)

fig.savefig('out.png', dpi=500)
